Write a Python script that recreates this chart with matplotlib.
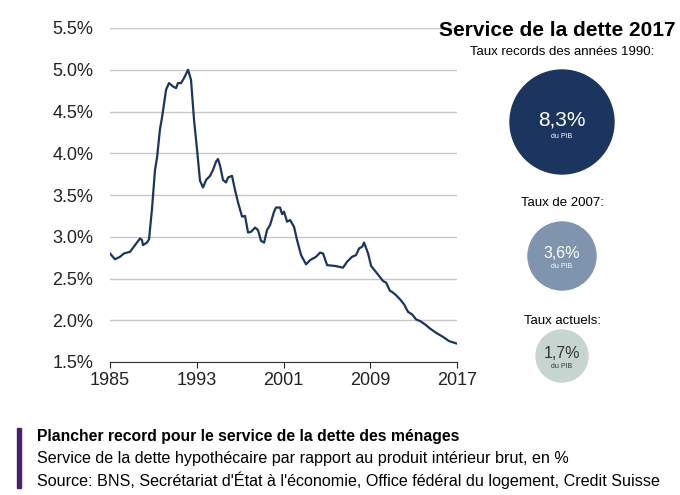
import numpy as np
import matplotlib.pyplot as plt
from matplotlib.patches import Circle, Rectangle

# years since 1985 and debt service in % of GDP
t = [0, .46, .92, 1.29, 1.85, 2.31, 2.77, 2.95, 3.04, 3.41, 3.6, 3.87, 4.15, 4.34, 4.61, 4.8, 5.17, 5.44,
     5.81, 6.09, 6.27, 6.55, 6.83, 7.2, 7.47, 7.75, 8.03, 8.3, 8.58, 8.86, 9.23, 9.5, 9.78, 9.96, 10.15,
     10.42, 10.7, 10.89, 11.25, 11.53, 11.81, 12.18, 12.45, 12.73, 13.01, 13.38, 13.65, 13.93, 14.21,
     14.48, 14.76, 15.13, 15.31, 15.68, 15.87, 16.05, 16.33, 16.61, 16.97, 17.25, 17.62, 18.08, 18.45,
     19.0, 19.37, 19.65, 20.02, 20.76, 21.49, 21.86, 22.32, 22.69, 22.97, 23.25, 23.43, 23.8, 24.08,
     24.45, 24.82, 25.18, 25.46, 25.83, 26.01, 26.38, 26.75, 27.12, 27.49, 27.86, 28.23, 28.6, 29.06,
     29.52, 30.07, 30.72, 31.27, 32.0]
values = [2.8, 2.73, 2.76, 2.8, 2.82, 2.9, 2.98, 2.96, 2.9, 2.93, 2.97, 3.33, 3.8, 3.95, 4.29, 4.43, 4.76,
          4.84, 4.8, 4.78, 4.84, 4.84, 4.9, 5.0, 4.88, 4.4, 4.04, 3.67, 3.59, 3.68, 3.73, 3.8, 3.9, 3.93,
          3.85, 3.68, 3.65, 3.71, 3.73, 3.56, 3.41, 3.24, 3.25, 3.05, 3.06, 3.11, 3.08, 2.95, 2.93, 3.08,
          3.14, 3.3, 3.35, 3.35, 3.27, 3.3, 3.18, 3.2, 3.12, 2.96, 2.78, 2.67, 2.72, 2.76, 2.81, 2.8, 2.66,
          2.65, 2.63, 2.7, 2.76, 2.78, 2.86, 2.88, 2.93, 2.8, 2.65, 2.59, 2.53, 2.47, 2.45, 2.35, 2.34, 2.3,
          2.25, 2.19, 2.1, 2.07, 2.01, 1.99, 1.95, 1.9, 1.85, 1.8, 1.75, 1.72]
years = [1985 + v for v in t]

bubble_labels = ["Taux records des années 1990:", "Taux de 2007:", "Taux actuels:"]
bubble_values = ["8,3%", "3,6%", "1,7%"]
bubble_colors = ["#1b355f", "#7f95ae", "#c6d5cf"]
bubble_radius = [52, 34, 26]
bubble_y = [122, 256, 356]
label_y = [52, 203, 321]

plt.rcParams['font.family'] = ['Liberation Sans', 'DejaVu Sans']
fig = plt.figure(figsize=(6.8, 4.95), dpi=100)
ax = fig.add_axes([110/680, 1-362/495, 347/680, 334/495])
ax.plot(years, values, color="#1b355f", lw=1.6)
ax.set_xlim(1985, 2017)
ax.set_ylim(1.5, 5.5)
ax.set_xticks([1985, 1993, 2001, 2009, 2017])
ax.set_yticks(np.arange(1.5, 5.51, 0.5))
ax.set_yticklabels([f"{v:.1f}%" for v in np.arange(1.5, 5.51, 0.5)])
ax.grid(axis='y', color="#c8c8c8", lw=1)
ax.set_axisbelow(True)
for s in ['top', 'right', 'left']:
    ax.spines[s].set_visible(False)
ax.spines['bottom'].set_color('#333333')
ax.tick_params(axis='y', length=0, labelsize=13, pad=12, colors='#222222')
ax.tick_params(axis='x', length=4, labelsize=13, colors='#222222')

ov = fig.add_axes([0, 0, 1, 1], zorder=5)
ov.set_xlim(0, 680)
ov.set_ylim(495, 0)
ov.axis('off')
ov.patch.set_alpha(0)
ov.text(557, 30, "Service de la dette 2017", ha='center', va='center', fontsize=15, fontweight='bold')
for lab, val, c, r, y, ly in zip(bubble_labels, bubble_values, bubble_colors, bubble_radius, bubble_y, label_y):
    ov.add_patch(Circle((562, y), r, color=c))
    ov.text(562, ly, lab, ha='center', va='center', fontsize=9.5)
    tc = 'white' if c != bubble_colors[2] else '#333333'
    ov.text(562, y - 2, val, ha='center', va='center', fontsize=15 if r > 40 else 11.5, color=tc)
    ov.text(562, y + 14 if r > 40 else y + 11, "du PIB", ha='center', va='center', fontsize=5, color=tc)

ov.add_patch(Rectangle((17, 428), 4, 60, color="#4b1f6f"))
ov.text(37, 436, "Plancher record pour le service de la dette des ménages", fontsize=11.3, fontweight='bold', va='center')
ov.text(37, 458, "Service de la dette hypothécaire par rapport au produit intérieur brut, en %", fontsize=11.6, va='center')
ov.text(37, 480, "Source: BNS, Secrétariat d'État à l'économie, Office fédéral du logement, Credit Suisse", fontsize=11.6, va='center')

fig.savefig("out.png", dpi=100)
